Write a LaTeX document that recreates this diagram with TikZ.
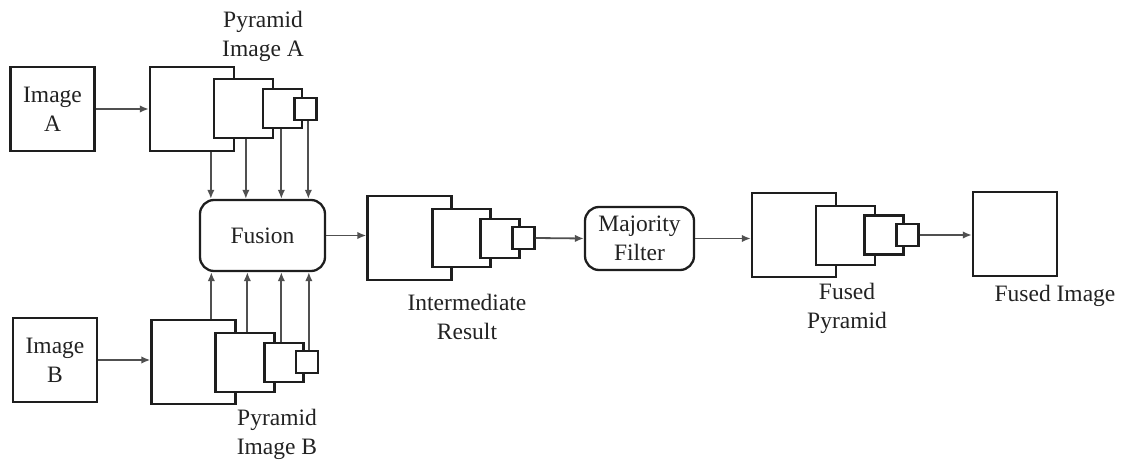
\documentclass[tikz,border=0pt]{standalone}
\usepackage{fontspec}
\setmainfont{Liberation Serif}
\usetikzlibrary{arrows.meta}
\definecolor{ink}{HTML}{1E1E1E}
\definecolor{wire}{HTML}{505050}
\definecolor{txt}{HTML}{222222}
\begin{document}
\begin{tikzpicture}[x=1pt,y=-1pt,
  lbl/.style={font=\fontsize{23.5}{29}\selectfont, text=txt, align=center, inner sep=0pt},
  blk/.style={draw=ink, line width=2.3pt, fill=white, inner sep=0pt,
    minimum width=#1, minimum height=#1},
  proc/.style={draw=ink, line width=2.3pt, fill=white, rounded corners=14pt,
    inner sep=0pt, font=\fontsize{23.5}{29}\selectfont, text=txt, align=center},
  arr/.style={draw=wire, line width=1.8pt, -{Latex[length=9pt,width=7.5pt]}}]
\useasboundingbox (0,0) rectangle (1125,462);

% source images
\node[blk=84pt, lbl] (imgA) at (52.5,109) {Image\\A};
\node[blk=84pt, lbl] (imgB) at (55,360) {Image\\B};

% pyramid of image A
\node[blk=84pt] (pa1) at (192,109) {};
\node[blk=59pt] (pa2) at (243.5,108.5) {};
\node[blk=39pt] (pa3) at (282.5,108.5) {};
\node[blk=22pt] (pa4) at (305.5,109) {};
\node[lbl] (paL) at (263,36) {Pyramid\\Image A};

% pyramid of image B
\node[blk=84pt] (pb1) at (193.5,362) {};
\node[blk=59pt] (pb2) at (245,362.5) {};
\node[blk=39pt] (pb3) at (284,362.5) {};
\node[blk=22pt] (pb4) at (307,362) {};
\node[lbl] (pbL) at (277,434) {Pyramid\\Image B};

% fusion step
\node[proc, minimum width=125pt, minimum height=71pt] (fusion) at (262.5,235.5) {Fusion};

% intermediate result pyramid
\node[blk=84pt] (ir1) at (409.5,238) {};
\node[blk=58pt] (ir2) at (461.5,238) {};
\node[blk=39pt] (ir3) at (500,238.5) {};
\node[blk=22pt] (ir4) at (523.5,238) {};
\node[lbl] (irL) at (467,317) {Intermediate\\Result};

% majority filter
\node[proc, minimum width=109pt, minimum height=63pt] (maj) at (639.5,238.5) {Majority\\Filter};

% fused pyramid
\node[blk=84pt] (fp1) at (794,235) {};
\node[blk=59pt] (fp2) at (845.5,235.5) {};
\node[blk=39pt] (fp3) at (884,235) {};
\node[blk=22pt] (fp4) at (907.5,235) {};
\node[lbl] (fpL) at (847,308) {Fused\\Pyramid};

% fused image
\node[blk=84pt] (fimg) at (1015,234) {};
\node[lbl] (fimgL) at (1055,296) {Fused Image};

% decomposition
\draw[arr] (imgA.east) -- (imgA.east -| pa1.west);
\draw[arr] (imgB.east) -- (imgB.east -| pb1.west);

% levels of pyramid A into fusion
\draw[arr] ([xshift=62pt]pa1.south west) -- ([xshift=62pt]pa1.south west |- fusion.north);
\draw[arr] ([xshift=33pt]pa2.south west) -- ([xshift=33pt]pa2.south west |- fusion.north);
\draw[arr] ([xshift=19.5pt]pa3.south west) -- ([xshift=19.5pt]pa3.south west |- fusion.north);
\draw[arr] ([xshift=15pt]pa4.south west) -- ([xshift=15pt]pa4.south west |- fusion.north);

% levels of pyramid B into fusion
\draw[arr] ([xshift=61pt]pb1.north west) -- ([xshift=61pt]pb1.north west |- fusion.south);
\draw[arr] ([xshift=33pt]pb2.north west) -- ([xshift=33pt]pb2.north west |- fusion.south);
\draw[arr] ([xshift=18pt]pb3.north west) -- ([xshift=18pt]pb3.north west |- fusion.south);
\draw[arr] ([xshift=14pt]pb4.north west) -- ([xshift=14pt]pb4.north west |- fusion.south);

% main chain
\draw[arr] (fusion.east) -- (fusion.east -| ir1.west);
\draw[arr] (ir4.east) -- (maj.west);
\draw[arr] (maj.east) -- (maj.east -| fp1.west);
\draw[arr] (fp4.east) -- (fp4.east -| fimg.west);
\end{tikzpicture}
\end{document}
